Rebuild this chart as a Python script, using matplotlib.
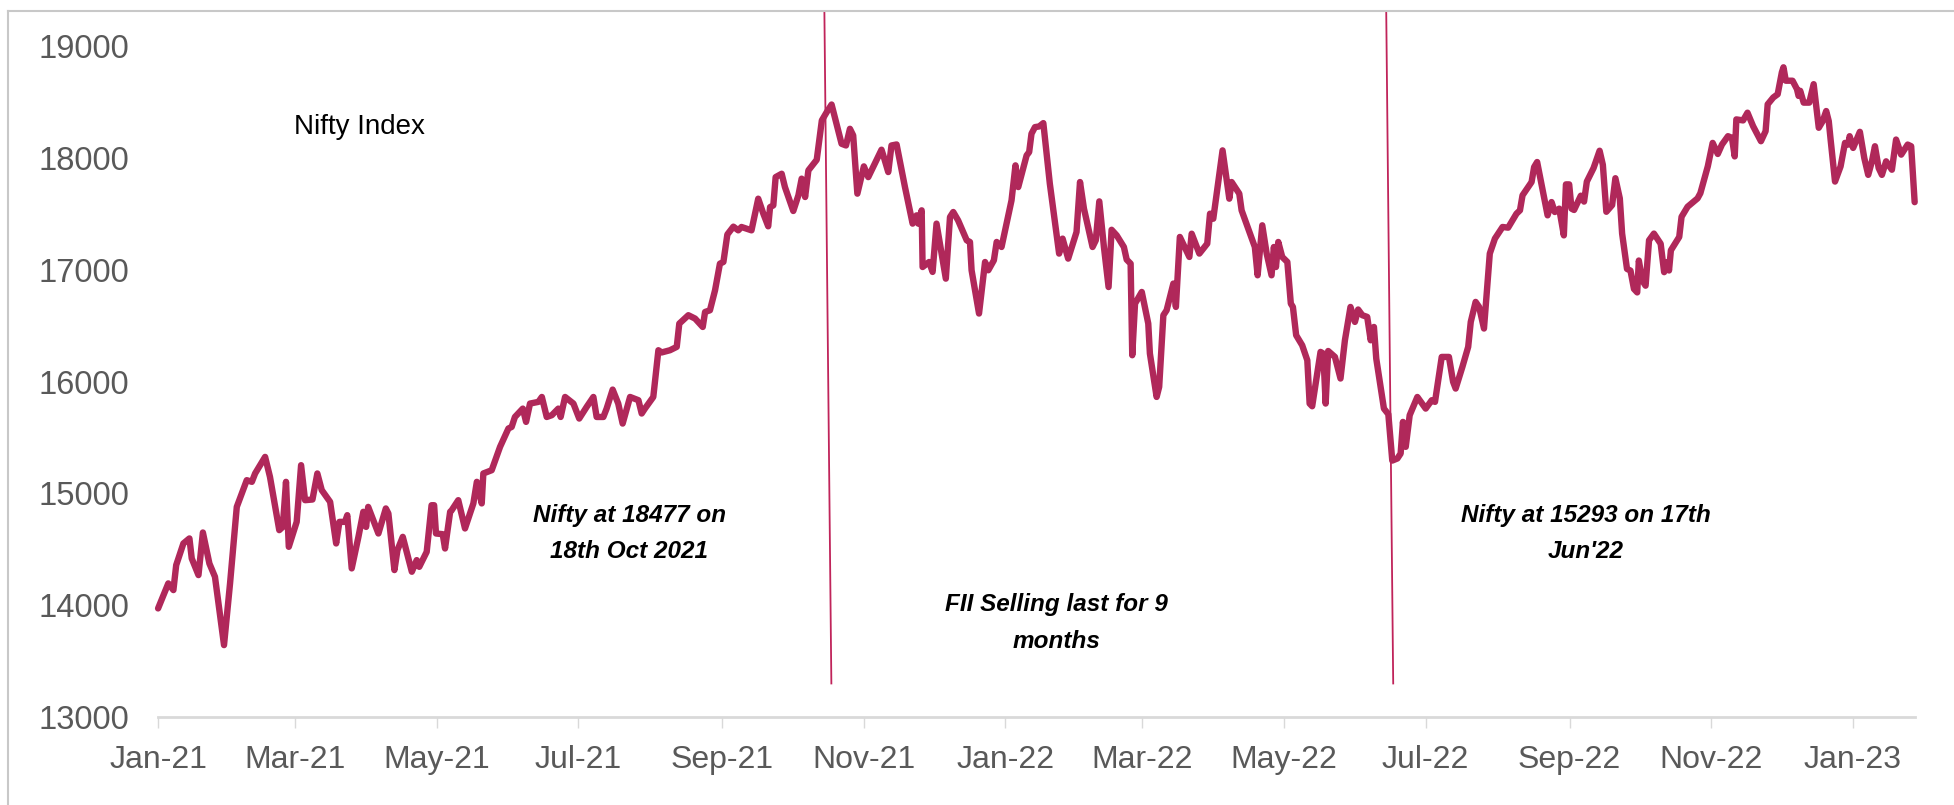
import numpy as np
import pandas as pd
import matplotlib
matplotlib.use("Agg")
from matplotlib import pyplot as plt
import matplotlib.dates as mdates
from matplotlib.lines import Line2D

# Nifty closes; x = days after 1 Jan 2021
days_1 = [0, 4.4, 6.6, 7.8, 10.9, 13.5, 14.5, 17.4, 19.3, 22.1, 24.5, 28.4, 31.0, 33.9, 38.2,
          40.4, 41.8, 46.1, 48.2, 52.2, 53.7, 55.1, 56.3, 59.7, 61.6, 63.3, 66.5, 68.6, 70.5, 74.1,
          76.7, 78.1, 80.5, 81.5, 83.4, 86.3, 88.4, 89.6, 90.5, 94.9, 98.1, 99.2, 101.8, 103.1, 105.4,
          109.3, 111.4, 112.5, 115.7, 117.8, 118.9, 119.7, 122.6, 123.6, 125.8]
nifty_1 = [13971, 14195, 14135, 14358, 14552, 14597, 14418, 14269, 14650, 14373, 14254, 13643, 14195, 14879, 15118,
           15103, 15178, 15326, 15147, 14671, 14700, 15103, 14522, 14745, 15252, 14939, 14945, 15178, 15029, 14924,
           14552, 14745, 14745, 14805, 14329, 14611, 14835, 14700, 14879, 14641, 14865, 14820, 14314, 14492, 14611,
           14299, 14403, 14343, 14477, 14894, 14894, 14641, 14635, 14507, 14835]

days_2 = [126.5, 129.3, 132.2, 135.8, 137.3, 139.4, 140.1, 143.7, 147.3, 150.9, 152.3, 153.7, 157.1, 158.5, 160.2,
          163.8, 165.3, 167.4, 169.6, 172.4, 173.4, 175.3, 178.9, 181.4, 184.6, 187.5, 188.9, 191.8, 193.2, 195.8,
          198.2, 200.1, 203.3, 206.9, 208.3, 209.7, 213.3, 215.5, 216.9, 220.5, 223.4, 224.5, 228.4, 231.3, 234.6,
          235.6, 237.7, 239.9, 242.0, 243.5, 245.2, 247.8]
nifty_2 = [14850, 14939, 14686, 14910, 15103, 14910, 15178, 15207, 15416, 15580, 15594, 15683, 15758, 15639, 15803,
           15818, 15862, 15683, 15699, 15758, 15683, 15862, 15803, 15669, 15773, 15862, 15683, 15683, 15758, 15928,
           15803, 15624, 15862, 15833, 15714, 15758, 15862, 16280, 16260, 16280, 16310, 16518, 16593, 16563, 16488,
           16622, 16637, 16816, 17054, 17069, 17315, 17385]

days_3 = [249.9, 251.3, 255.6, 258.5, 260.7, 262.8, 263.6, 265.0, 266.0, 268.6, 270.0, 273.6, 275.8, 277.2, 278.7,
          280.1, 283.7, 285.9, 288.0, 290.1, 294.4, 296.3, 298.0, 299.4, 301.2, 304.0, 305.9, 311.6, 312.6, 314.5,
          315.9, 318.1, 321.7, 325.0, 326.7, 327.4, 328.9, 329.3, 332.1, 333.6, 335.3, 339.3, 341.1, 342.5, 344.6,
          348.3, 349.7, 350.4, 353.6, 356.2, 357.6, 360.0, 361.2, 363.3]
nifty_3 = [17352, 17382, 17352, 17635, 17501, 17388, 17560, 17575, 17828, 17858, 17739, 17525, 17665, 17814, 17650,
           17888, 17983, 18335, 18409, 18477, 18126, 18111, 18260, 18201, 17680, 17924, 17828, 18073, 18007, 17873,
           18111, 18120, 17739, 17412, 17486, 17412, 17531, 17024, 17069, 16980, 17412, 16920, 17471, 17516, 17441,
           17263, 17248, 16995, 16608, 17069, 16995, 17084, 17248, 17203]

days_4 = [367.6, 369.3, 370.5, 374.1, 375.2, 376.2, 377.7, 379.5, 381.3, 384.1, 386.3, 388.1, 389.6, 392.0, 395.6,
          397.1, 398.8, 402.5, 403.9, 405.4, 407.4, 409.4, 410.7, 412.9, 416.0, 417.2, 418.9, 419.6, 420.8, 423.7,
          426.5, 427.2, 430.1, 431.2, 433.0, 434.4, 437.3, 438.4, 440.1, 444.2, 445.2, 448.5, 451.9, 453.1, 454.5,
          458.5, 461.4, 462.4, 465.7, 466.7, 472.4, 473.6, 475.6, 477.5, 479.6, 480.6, 481.5, 482.5, 484.2, 486.4,
          487.9, 488.8, 490.2, 492.8, 495.0, 496.0, 497.1, 500.7, 501.9, 502.9, 504.0, 506.9, 509.3, 511.2, 513.6,
          515.5, 516.9, 518.7, 520.8, 522.3, 523.7, 524.7, 528.0, 529.9, 531.6]
nifty_4 = [17620, 17933, 17739, 18022, 18052, 18216, 18275, 18281, 18311, 17769, 17426, 17144, 17278, 17099, 17337,
           17784, 17546, 17203, 17263, 17611, 17203, 16845, 17357, 17307, 17203, 17090, 17054, 16235, 16697, 16801,
           16518, 16250, 15862, 15952, 16593, 16637, 16876, 16667, 17293, 17114, 17322, 17144, 17233, 17501, 17456,
           18067, 17635, 17784, 17680, 17531, 17203, 16950, 17397, 17144, 16950, 17203, 17024, 17248, 17114, 17069,
           16697, 16667, 16414, 16324, 16190, 15803, 15779, 16265, 16250, 15803, 16273, 16220, 16027, 16369, 16667,
           16533, 16644, 16593, 16578, 16369, 16488, 16205, 15758, 15708, 15293]

days_5 = [533.8, 535.2, 536.2, 537.4, 539.1, 542.4, 546.0, 548.6, 550.0, 552.9, 556.0, 557.8, 558.9, 561.8, 564.3,
          565.4, 567.5, 569.0, 571.1, 573.6, 575.8, 579.1, 581.5, 585.1, 586.6, 587.7, 591.6, 592.7, 594.0, 598.5,
          600.2, 601.6, 603.5, 605.5, 606.4, 607.8, 608.8, 609.9, 612.8, 614.2, 615.4, 618.3, 620.9, 622.3, 623.8,
          626.3, 627.7, 629.6, 630.6, 632.7, 634.2, 635.7, 637.1, 637.8, 639.3, 640.7, 642.2, 644.3, 647.2, 648.7,
          650.1, 650.8, 651.6, 655.2, 656.2, 658.8, 663.1, 664.3, 667.5, 669.6, 671.8, 673.6, 676.2, 677.9, 679.1,
          679.8, 682.7, 684.6, 687.0, 690.4, 692.4, 693.3, 695.7, 697.6, 699.4, 700.1, 701.1, 704.0, 705.9, 706.6,
          707.3, 708.8, 711.2, 713.1, 714.1, 715.3, 717.0, 718.5, 719.6, 720.4, 722.3, 724.7, 726.6, 728.0, 728.6,
          730.1, 733.0, 734.9, 736.6, 738.2, 739.5, 741.1, 742.5, 744.3, 746.8, 748.6, 750.8, 753.6, 755.1, 756.6]
nifty_5 = [15312, 15356, 15639, 15416, 15699, 15862, 15758, 15833, 15818, 16220, 16220, 15997, 15937, 16131, 16310,
           16533, 16712, 16667, 16474, 17144, 17278, 17382, 17376, 17501, 17531, 17665, 17784, 17918, 17963, 17486,
           17605, 17516, 17546, 17307, 17763, 17763, 17546, 17534, 17662, 17609, 17788, 17909, 18064, 17938, 17518,
           17578, 17818, 17638, 17323, 17007, 16992, 16828, 16797, 17082, 16903, 16857, 17263, 17323, 17232, 16978,
           17068, 16993, 17173, 17293, 17473, 17563, 17638, 17684, 17924, 18134, 18035, 18119, 18194, 18179, 18013,
           18344, 18335, 18404, 18284, 18149, 18239, 18479, 18540, 18569, 18765, 18810, 18690, 18690, 18615, 18554,
           18600, 18494, 18494, 18659, 18479, 18269, 18329, 18419, 18329, 18164, 17788, 17924, 18134, 18119, 18194,
           18089, 18233, 17999, 17848, 17969, 18104, 17909, 17848, 17969, 17894, 18164, 18029, 18119, 18104, 17604]

events = ["2021-10-18", "2022-06-17"]
start = pd.Timestamp("2021-01-01")
end = start + pd.Timedelta(days=756.8)

LINE = "#b0285a"
GREY = "#595959"


def main():
    plt.rcParams["font.family"] = ["Liberation Sans", "DejaVu Sans"]
    days = np.concatenate([days_1, days_2, days_3, days_4, days_5])
    nifty = np.concatenate([nifty_1, nifty_2, nifty_3, nifty_4, nifty_5])
    dates = start + pd.to_timedelta(days, unit="D")

    fig = plt.figure(figsize=(19.54, 8.05), dpi=100)
    ax = fig.add_axes([0.0809, 0.1093, 0.8992, 0.8335])

    ax.plot(dates, nifty, color=LINE, lw=4.6, solid_joinstyle="round", solid_capstyle="round",
            zorder=3, clip_on=False)

    # slanted marker lines for the two turning points
    for ev in events:
        d = pd.Timestamp(ev)
        ax.plot([d - pd.Timedelta(days=3), d], [19300, 13300], color="#c0245a", lw=1.3,
                clip_on=False, zorder=2)

    ax.set_xlim(start, end)
    ax.set_ylim(13000, 19000)
    ax.set_yticks(range(13000, 19001, 1000))
    ax.xaxis.set_major_locator(mdates.MonthLocator(bymonth=[1, 3, 5, 7, 9, 11]))
    ax.xaxis.set_major_formatter(mdates.DateFormatter("%b-%y"))

    for s in ["top", "right", "left"]:
        ax.spines[s].set_visible(False)
    ax.spines["bottom"].set_color("#d9d9d9")
    ax.spines["bottom"].set_linewidth(2)
    ax.tick_params(axis="x", length=8, width=1, color="#d9d9d9", pad=12, labelsize=23, labelcolor=GREY)
    ax.tick_params(axis="y", length=0, pad=21, labelsize=23.5, labelcolor=GREY)

    ax.text(0.1147, 0.88, "Nifty Index", transform=ax.transAxes, ha="center", va="center",
            fontsize=20, color="black")
    bold = dict(fontsize=17.5, fontweight="bold", style="italic", color="black",
                ha="center", va="center", linespacing=1.75)
    ax.text(pd.Timestamp("2021-07-23"), 14640, "Nifty at 18477 on\n18th Oct 2021", **bold)
    ax.text(pd.Timestamp("2022-01-23"), 13840, "FII Selling last for 9\nmonths", **bold)
    ax.text(pd.Timestamp("2022-09-08"), 14640, "Nifty at 15293 on 17th\nJun'22", **bold)

    # outer chart border (left and top visible)
    fig.add_artist(Line2D([8 / 1954, 8 / 1954], [0, 1 - 11 / 805], color="#c8c8c8", lw=1.5))
    fig.add_artist(Line2D([8 / 1954, 1], [1 - 11 / 805, 1 - 11 / 805], color="#c8c8c8", lw=1.5))

    fig.savefig("out.png", dpi=100)


if __name__ == "__main__":
    main()
